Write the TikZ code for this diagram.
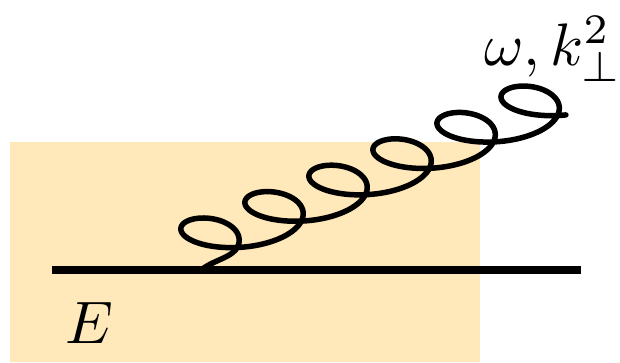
\documentclass[tikz,border=0pt]{standalone}
\definecolor{bgpeach}{RGB}{255,232,186}
\tikzset{
  lbl/.style={inner sep=0pt, scale=6},
  hline/.style={line width=8pt, black},
  gluon/.style={line width=5.5pt, black, line cap=round, line join=round}
}
\begin{document}
\begin{tikzpicture}[x=1pt, y=-1pt]
\useasboundingbox (0,0) rectangle (620,362);
\fill[bgpeach] (10,142) rectangle (480,362);
\coordinate (L) at (52,270);
\coordinate (R) at (581,270);
\draw[hline] (L) -- (R);
\coordinate (G0) at (200,271);
\coordinate (G1) at (238,246);
\draw[gluon] (G0) .. controls (212,260) and (233,258) .. (G1);
\draw[gluon] plot[domain=0:36.2, samples=500, variable=\t]
  ({194+10.19*\t+44*cos(\t r)}, {246-4.2*\t-21*sin(\t r)});
\node[lbl, anchor=base west] (omk) at (483,65) {$\omega,k_\perp^2$};
\node[lbl, anchor=base west] (E) at (64,343) {$E$};
\end{tikzpicture}
\end{document}
